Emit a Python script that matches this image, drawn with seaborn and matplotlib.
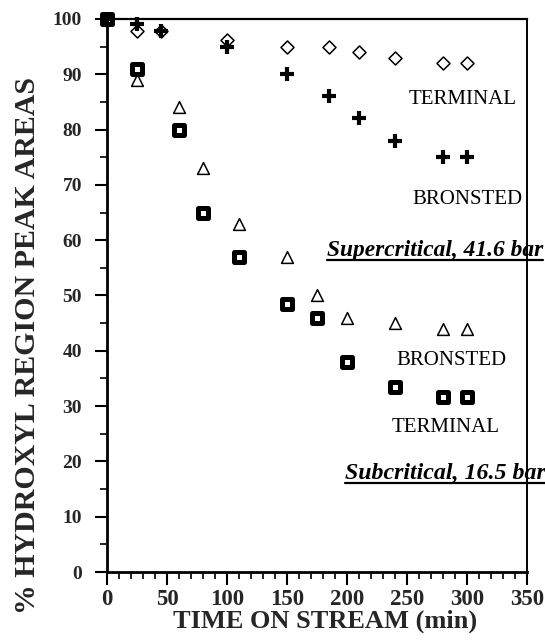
import numpy as np
import pandas as pd
import seaborn as sns
import matplotlib.pyplot as plt
from matplotlib.lines import Line2D
from matplotlib.ticker import MultipleLocator

# Supercritical run, 41.6 bar
super_time = [0, 25, 45, 100, 150, 185, 210, 240, 280, 300]
super_terminal = [100, 97.8, 97.8, 96.2, 95.0, 95.0, 94.0, 93.0, 92.0, 92.0]
super_bronsted = [100, 99.1, 97.8, 95.0, 90.0, 86.0, 82.1, 78.0, 75.0, 75.0]

# Subcritical run, 16.5 bar
sub_time = [0, 25, 60, 80, 110, 150, 175, 200, 240, 280, 300]
sub_bronsted = [100, 89.0, 84.0, 73.0, 63.0, 57.0, 50.0, 46.0, 45.0, 44.0, 44.0]
sub_terminal = [100, 91.0, 80.0, 65.0, 57.0, 48.5, 46.0, 38.0, 33.5, 31.6, 31.6]

x_ticks = [0, 50, 100, 150, 200, 250, 300, 350]
y_ticks = [0, 10, 20, 30, 40, 50, 60, 70, 80, 90, 100]

sns.set_style("ticks")
plt.rcParams["font.family"] = ["Liberation Serif", "DejaVu Serif"]

fig = plt.figure(figsize=(5.45, 6.43), dpi=100)
ax = fig.add_axes([0.1963, 0.1104, 0.7706, 0.8601])

common = dict(ax=ax, clip_on=False, legend=False)

sns.scatterplot(x=super_time, y=super_terminal, marker="D", s=44,
                color="white", edgecolor="black", linewidth=1.1, zorder=3, **common)
sns.scatterplot(x=super_time, y=super_bronsted, marker="+", s=100,
                color="black", linewidth=3.0, zorder=4, **common)
sns.scatterplot(x=sub_time, y=sub_bronsted, marker="^", s=72,
                color="white", edgecolor="black", linewidth=1.1, zorder=3, **common)
sns.scatterplot(x=sub_time, y=sub_terminal, marker="s", s=49,
                color="white", edgecolor="black", linewidth=3.6, zorder=3, **common)

ax.set_xlim(0, 350)
ax.set_ylim(0, 100)
ax.set_xticks(x_ticks)
ax.set_yticks(y_ticks)
ax.xaxis.set_minor_locator(MultipleLocator(10))
ax.yaxis.set_minor_locator(MultipleLocator(5))
ax.tick_params(which="major", direction="out", length=9, width=1.5, color="black")
ax.tick_params(which="minor", direction="out", length=5, width=1.2, color="black")
ax.tick_params(axis="x", which="major", pad=3)
ax.tick_params(axis="y", which="major", pad=9)
for lab in ax.get_xticklabels():
    lab.set_fontweight("bold")
    lab.set_fontsize(16.5)
for lab in ax.get_yticklabels():
    lab.set_fontweight("bold")
    lab.set_fontsize(14)

for side, lw in [("left", 2.0), ("bottom", 2.0), ("top", 1.6), ("right", 1.4)]:
    ax.spines[side].set_visible(True)
    ax.spines[side].set_linewidth(lw)
    ax.spines[side].set_color("black")

ax.set_xlabel("TIME ON STREAM (min)", fontsize=19, fontweight="bold")
ax.xaxis.set_label_coords(0.519, -0.068)
ax.set_ylabel("% HYDROXYL REGION PEAK AREAS", fontsize=21.5, fontweight="bold")
ax.yaxis.set_label_coords(-0.158, 0.409)

# Series names next to the curves
name_kw = dict(fontsize=15, ha="center", va="center", color="black")
ax.text(296.7, 85.4, "TERMINAL", **name_kw)
ax.text(300.0, 67.4, "BRONSTED", **name_kw)
ax.text(286.7, 38.2, "BRONSTED", **name_kw)
ax.text(282.5, 26.1, "TERMINAL", **name_kw)

# Underlined condition captions
cond_kw = dict(fontsize=16.8, fontweight="bold", fontstyle="italic",
               ha="left", va="baseline", color="black", clip_on=False)
captions = [
    ax.text(183.3, 57.1, "Supercritical, 41.6 bar", **cond_kw),
    ax.text(198.3, 16.8, "Subcritical, 16.5 bar", fontsize=17.2,
            **{k: v for k, v in cond_kw.items() if k != "fontsize"}),
]

fig.canvas.draw()
renderer = fig.canvas.get_renderer()
inv = fig.transFigure.inverted()
for t in captions:
    bb = t.get_window_extent(renderer)
    _, base_y = ax.transData.transform(t.get_position())
    y_line = base_y - 3.5
    (x0, y0), (x1, _) = inv.transform([(bb.x0, y_line), (bb.x1, y_line)])
    fig.add_artist(Line2D([x0, x1], [y0, y0], transform=fig.transFigure,
                          color="black", linewidth=1.6))

fig.savefig("out.png", dpi=100)
